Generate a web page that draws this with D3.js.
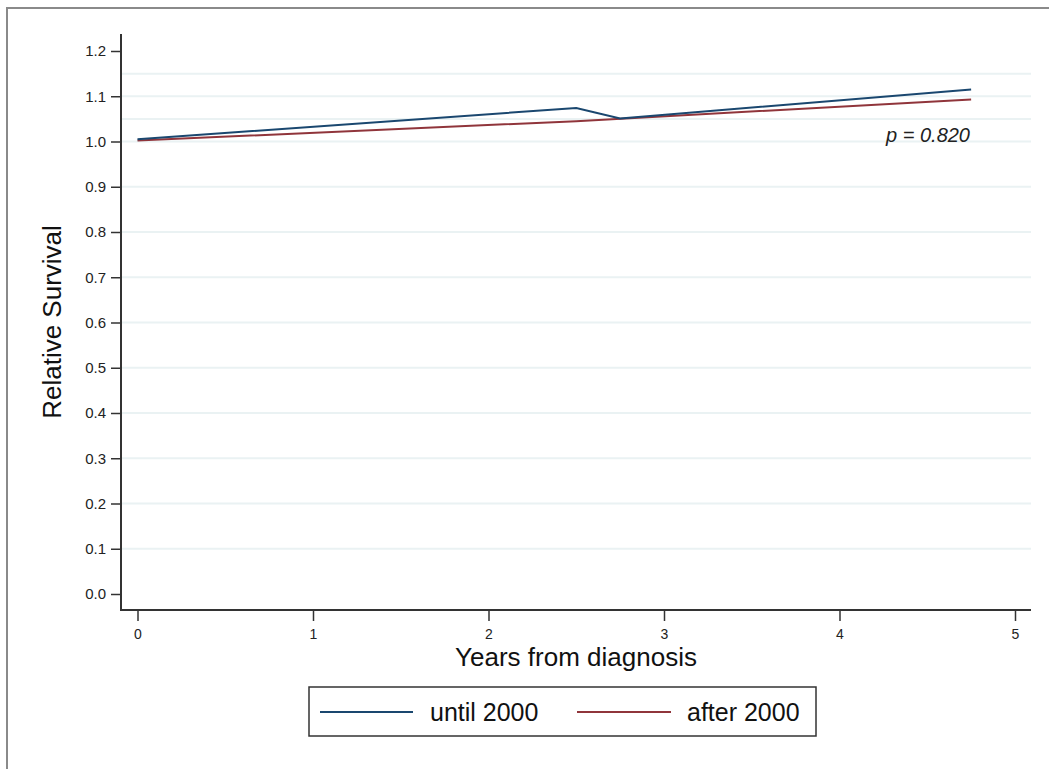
<!DOCTYPE html>
<html>
<head>
<meta charset="utf-8">
<script src="https://cdn.jsdelivr.net/npm/d3@7"></script>
<style>
  body { margin: 0; background: #fff; }
  svg { display: block; font-family: "Liberation Sans", Arial, sans-serif; }
</style>
</head>
<body>
<svg id="chart" width="1049" height="769"></svg>
<script>
// values
var untilYears = [0, 2.5, 2.75, 4.75];
var untilSurv  = [1.005, 1.074, 1.051, 1.115];
var afterYears = [0, 2.5, 4.75];
var afterSurv  = [1.002, 1.045, 1.093];
var xTicks = [0, 1, 2, 3, 4, 5];
var yTicks = [0, 0.1, 0.2, 0.3, 0.4, 0.5, 0.6, 0.7, 0.8, 0.9, 1.0, 1.1, 1.2];
var gridVals = [0.1, 0.2, 0.3, 0.4, 0.5, 0.6, 0.7, 0.8, 0.9, 1.0, 1.05, 1.1, 1.15];
var seriesNames = ["until 2000", "after 2000"];
var seriesColors = ["#1a476f", "#90353b"];
var pText = "p = 0.820";

var svg = d3.select("#chart");

// outer frame (runs off the right and bottom edges)
svg.append("rect")
    .attr("x", 7).attr("y", 8)
    .attr("width", 1100).attr("height", 800)
    .attr("fill", "none")
    .attr("stroke", "#8a8a8a")
    .attr("stroke-width", 2);

var x = d3.scaleLinear().domain([0, 5]).range([137.5, 1015]);
var y = d3.scaleLinear().domain([0, 1.2]).range([594, 51]);

var plotLeft = 121, plotRight = 1031, plotBottom = 610, plotTop = 34;

// gridlines
svg.append("g").selectAll("line")
    .data(gridVals)
    .enter().append("line")
    .attr("x1", plotLeft).attr("x2", plotRight)
    .attr("y1", d => y(d)).attr("y2", d => y(d))
    .attr("stroke", "#eaf2f3")
    .attr("stroke-width", 2);

// y axis
var yAxis = svg.append("g")
    .attr("transform", `translate(${plotLeft},0)`)
    .call(d3.axisLeft(y).tickValues(yTicks).tickFormat(d3.format(".1f")).tickSize(10).tickPadding(5));
yAxis.select(".domain").remove();
yAxis.selectAll(".tick line").attr("stroke", "#333").attr("stroke-width", 1.5);
yAxis.selectAll("text").style("font-size", "15px").attr("fill", "#222");
svg.append("line")
    .attr("x1", plotLeft).attr("x2", plotLeft)
    .attr("y1", plotTop).attr("y2", plotBottom + 1)
    .attr("stroke", "#333").attr("stroke-width", 2);

// x axis
var xAxis = svg.append("g")
    .attr("transform", `translate(0,${plotBottom})`)
    .call(d3.axisBottom(x).tickValues(xTicks).tickFormat(d3.format("d")).tickSize(11).tickPadding(8));
xAxis.select(".domain").remove();
xAxis.selectAll(".tick line").attr("stroke", "#333").attr("stroke-width", 1.5);
xAxis.selectAll("text").style("font-size", "14px").attr("fill", "#222");
svg.append("line")
    .attr("x1", plotLeft - 1).attr("x2", plotRight)
    .attr("y1", plotBottom).attr("y2", plotBottom)
    .attr("stroke", "#333").attr("stroke-width", 2);

// axis titles
svg.append("text")
    .attr("x", 576).attr("y", 666)
    .attr("text-anchor", "middle")
    .attr("font-size", 26)
    .attr("fill", "#111")
    .text("Years from diagnosis");

svg.append("text")
    .attr("transform", "translate(61,322) rotate(-90)")
    .attr("text-anchor", "middle")
    .attr("font-size", 26)
    .attr("fill", "#111")
    .text("Relative Survival");

// lines
var line = d3.line().x(d => x(d[0])).y(d => y(d[1]));
var seriesData = [
    d3.zip(untilYears, untilSurv),
    d3.zip(afterYears, afterSurv)
];
// draw red first so blue sits on top where they meet
[1, 0].forEach(i => {
    svg.append("path")
        .datum(seriesData[i])
        .attr("d", line)
        .attr("fill", "none")
        .attr("stroke", seriesColors[i])
        .attr("stroke-width", 2);
});

// p value
svg.append("text")
    .attr("x", 970).attr("y", 142)
    .attr("text-anchor", "end")
    .attr("font-size", 20)
    .attr("font-style", "italic")
    .attr("fill", "#222")
    .text(pText);

// legend
var legend = svg.append("g");
legend.append("rect")
    .attr("x", 309).attr("y", 687)
    .attr("width", 507).attr("height", 49)
    .attr("fill", "#fff")
    .attr("stroke", "#333")
    .attr("stroke-width", 1.5);
var legX = [[320, 413, 430], [577, 671, 687]];
seriesNames.forEach((name, i) => {
    legend.append("line")
        .attr("x1", legX[i][0]).attr("x2", legX[i][1])
        .attr("y1", 712).attr("y2", 712)
        .attr("stroke", seriesColors[i])
        .attr("stroke-width", 2);
    legend.append("text")
        .attr("x", legX[i][2]).attr("y", 721)
        .attr("font-size", 25)
        .attr("fill", "#111")
        .text(name);
});
</script>
</body>
</html>
